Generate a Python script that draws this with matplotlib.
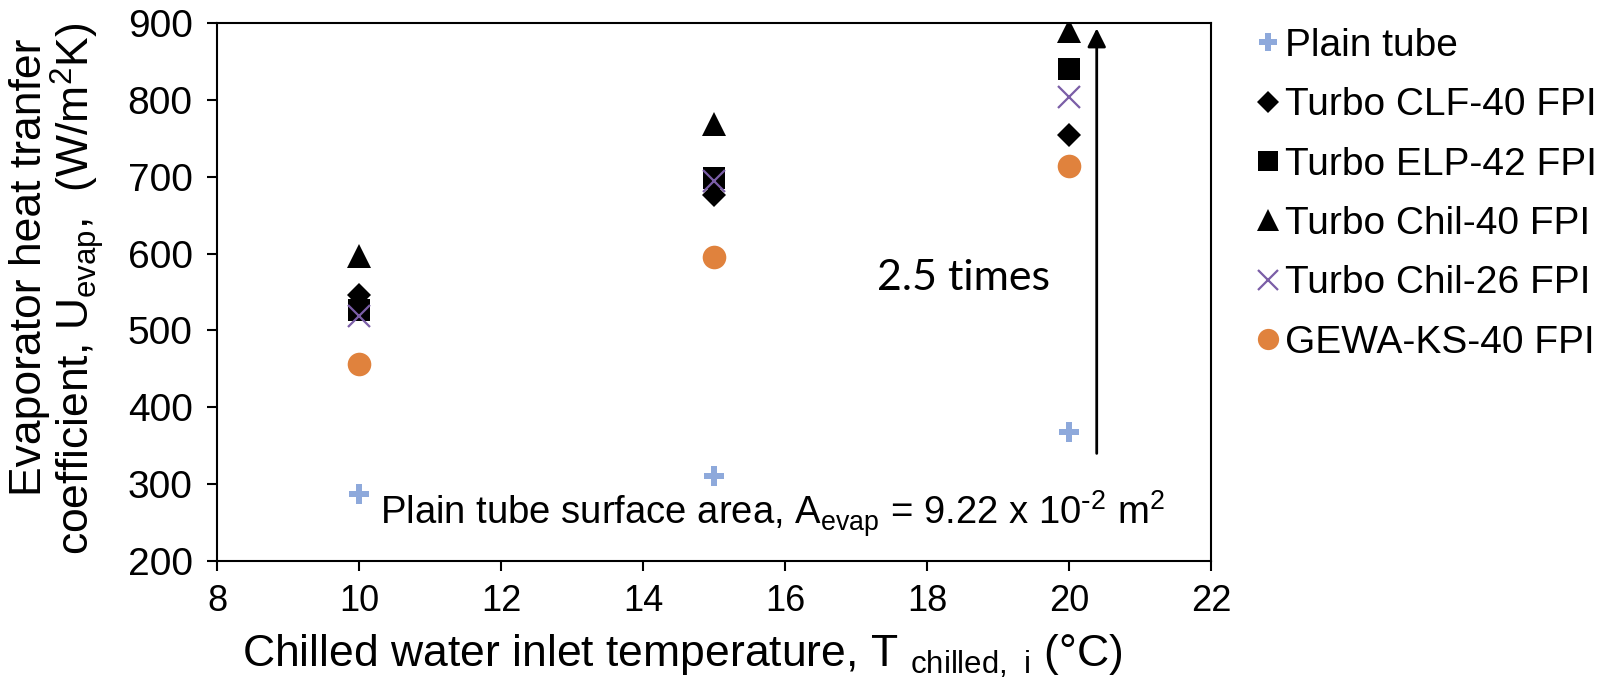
import matplotlib
matplotlib.use('Agg')
import matplotlib.pyplot as plt

plt.rcParams['font.family'] = ['Liberation Sans', 'DejaVu Sans']
plt.rcParams['mathtext.default'] = 'regular'

# chilled water inlet temperatures
temps = [10, 15, 20]

# evaporator heat transfer coefficients (W/m2K)
plain_tube = [287, 311, 368]
turbo_clf40 = [546, 676, 754]
turbo_elp42 = [526, 698, 840]
turbo_chil40 = [597, 769, 889]
turbo_chil26 = [519, 695, 804]
gewa_ks40 = [456, 595, 714]

series_names = ['Plain tube', 'Turbo CLF-40 FPI', 'Turbo ELP-42 FPI',
                'Turbo Chil-40 FPI', 'Turbo Chil-26 FPI', 'GEWA-KS-40 FPI']

x_ticks = [8, 10, 12, 14, 16, 18, 20, 22]
y_ticks = [200, 300, 400, 500, 600, 700, 800, 900]

arrow_x = 20.39
arrow_from = 340
arrow_to = 893

fig = plt.figure(figsize=(16.13, 6.82), dpi=100)
ax = fig.add_axes([0.1345, 0.1774, 0.6163, 0.7889])

ax.plot(temps, plain_tube, linestyle='', marker='P', markersize=15,
        color='#8EA9DB', markeredgewidth=0, label=series_names[0])
ax.plot(temps, turbo_clf40, linestyle='', marker='D', markersize=12,
        color='black', markeredgewidth=0, label=series_names[1])
ax.plot(temps, turbo_elp42, linestyle='', marker='s', markersize=16,
        color='black', markeredgewidth=0, label=series_names[2])
ax.plot(temps, turbo_chil40, linestyle='', marker='^', markersize=17,
        color='black', markeredgewidth=0, label=series_names[3])
ax.plot(temps, turbo_chil26, linestyle='', marker='x', markersize=16,
        color='#7B5EA7', markeredgewidth=1.6, label=series_names[4])
ax.plot(temps, gewa_ks40, linestyle='', marker='o', markersize=17,
        color='#E0823D', markeredgewidth=0, label=series_names[5])

ax.set_xlim(8, 22)
ax.set_ylim(200, 900)
ax.set_xticks(x_ticks)
ax.set_yticks(y_ticks)
for s in ax.spines.values():
    s.set_linewidth(1.5)
ax.tick_params(axis='both', direction='out', length=7.5, width=1.5)
ax.tick_params(axis='y', labelsize=28, pad=10)
ax.tick_params(axis='x', labelsize=26, pad=9)

# arrow showing the enhancement factor
ax.annotate('', xy=(arrow_x, arrow_to), xytext=(arrow_x, arrow_from),
            arrowprops=dict(arrowstyle='-|>', color='black', lw=2,
                            mutation_scale=28, shrinkA=0, shrinkB=0))
ax.text(18.52, 568, '2.5 times', fontsize=31, family=['Lato', 'DejaVu Sans'],
        ha='center', va='center')
ax.text(10.3, 247,
        r'Plain tube surface area, A$_{evap}$ = 9.22 x 10$^{\text{-}2}$ m$^{2}$',
        fontsize=27.5, ha='left', va='baseline')

# axis titles
fig.text(682 / 1613, 1 - 667 / 682,
         r'Chilled water inlet temperature, T $_{chilled,\ i}$ (°C)',
         fontsize=32, ha='center', va='baseline')
fig.text(30 / 1613, 1 - 267 / 682, 'Evaporator heat tranfer', fontsize=32,
         rotation=90, ha='center', va='center')
fig.text(77 / 1613, 1 - 289 / 682, r'coefficient, U$_{evap}$,  (W/m$^{2}$K)',
         fontsize=32, rotation=90, ha='center', va='center')

ax.legend(loc='upper left', bbox_to_anchor=(1258 / 1613, 1 - 28 / 682),
          bbox_transform=fig.transFigure, frameon=False, fontsize=28,
          handlelength=0.5, handletextpad=0.2, labelspacing=0.6,
          borderpad=0, borderaxespad=0, markerscale=0.9)

fig.savefig('out.png', dpi=100)
